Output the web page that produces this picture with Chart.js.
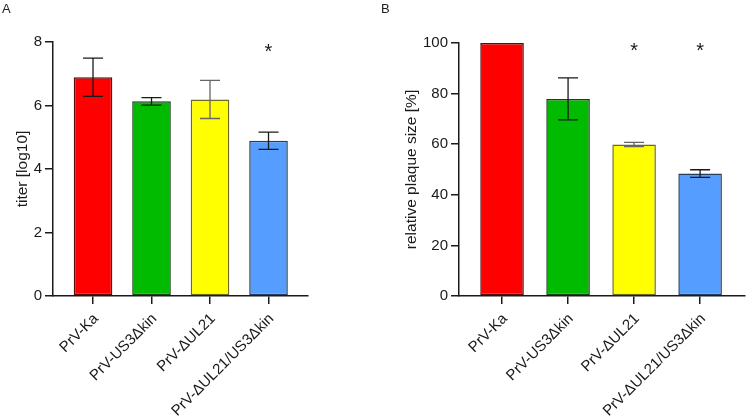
<!DOCTYPE html>
<html>
<head>
<meta charset="utf-8">
<script src="https://cdn.jsdelivr.net/npm/chart.js@4.4.1/dist/chart.umd.min.js"></script>
<style>
  body { margin: 0; background: #fff; }
  #wrap { position: relative; width: 746px; height: 420px; }
  .panel { position: absolute; top: 0; width: 373px; height: 420px; }
  .letter { position: absolute; top: 1px; font: 13px "Liberation Sans", Arial, sans-serif; color: #222; }
</style>
</head>
<body>
<div id="wrap">
  <div class="panel" style="left:0"><canvas id="chartA" width="373" height="420"></canvas></div>
  <div class="panel" style="left:373px"><canvas id="chartB" width="373" height="420"></canvas></div>
  <div class="letter" style="left:2px">A</div>
  <div class="letter" style="left:381px">B</div>
</div>
<script>
const strains = ["PrV-Ka", "PrV-US3Δkin", "PrV-ΔUL21", "PrV-ΔUL21/US3Δkin"];

const titerMean = [6.89, 6.13, 6.19, 4.89];
const titerErr = [0.6, 0.12, 0.6, 0.27];
const titerStars = [null, null, null, 7.8];

const plaqueMean = [100, 77.9, 59.9, 48.4];
const plaqueErr = [0, 8.3, 0.8, 1.5];
const plaqueStars = [null, null, 98.3, 98.3];

const fills = ["#ff0000", "#00bb00", "#ffff00", "#559dff"];
const borders = ["#5a0c0c", "#1a3f1a", "#6b6b26", "#243f60"];
const errColors = ["#1a1a1a", "#1a1a1a", "#666666", "#1a1a1a"];

const font = "'Liberation Sans', Arial, sans-serif";
const ink = "#1a1a1a";

// error bars and significance stars
const extras = {
  id: "extras",
  afterDatasetsDraw(chart) {
    const { ctx, scales: { x, y } } = chart;
    const ds = chart.data.datasets[0];
    ctx.save();
    ds.data.forEach((p, i) => {
      const e = ds.errors[i];
      if (!e) return;
      const px = x.getPixelForValue(p.x);
      const top = y.getPixelForValue(p.y + e);
      const bot = y.getPixelForValue(p.y - e);
      ctx.strokeStyle = errColors[i];
      ctx.lineWidth = 1.3;
      ctx.beginPath();
      ctx.moveTo(px, top); ctx.lineTo(px, bot);
      ctx.moveTo(px - 10, top); ctx.lineTo(px + 10, top);
      ctx.moveTo(px - 10, bot); ctx.lineTo(px + 10, bot);
      ctx.stroke();
    });
    ctx.fillStyle = ink;
    ctx.font = "20px " + font;
    ctx.textAlign = "center";
    ctx.textBaseline = "alphabetic";
    ds.stars.forEach((s, i) => {
      if (s == null) return;
      ctx.fillText("*", x.getPixelForValue(i), y.getPixelForValue(s) + 10);
    });
    ctx.restore();
  }
};

function makeChart(id, means, errs, stars, cfg) {
  new Chart(document.getElementById(id), {
    type: "bar",
    data: {
      datasets: [{
        data: means.map((v, i) => ({ x: i, y: v })),
        errors: errs,
        stars: stars,
        backgroundColor: fills,
        borderColor: borders,
        borderWidth: 1.5,
        borderSkipped: false,
        barPercentage: 0.66,
        categoryPercentage: 1
      }]
    },
    options: {
      responsive: false,
      animation: false,
      events: [],
      layout: { padding: cfg.padding },
      plugins: { legend: { display: false }, tooltip: { enabled: false } },
      scales: {
        x: {
          type: "linear",
          offset: false,
          min: cfg.xMin,
          max: cfg.xMax,
          afterBuildTicks: (s) => { s.ticks = strains.map((_, i) => ({ value: i })); },
          afterFit: (s) => { s.height = cfg.xHeight; },
          border: { color: ink, width: 1.5 },
          grid: { offset: false, drawOnChartArea: false, tickLength: 8, color: ink, lineWidth: 1.5 },
          ticks: {
            color: ink,
            font: { family: font, size: 15 },
            maxRotation: 45,
            minRotation: 45,
            padding: 6,
            labelOffset: 3,
            callback: (v) => strains[v]
          }
        },
        y: {
          min: 0,
          max: cfg.yMax,
          afterFit: (s) => { s.width = cfg.yWidth; },
          border: { color: ink, width: 1.5 },
          grid: { drawOnChartArea: false, tickLength: 8, color: ink, lineWidth: 1.5 },
          ticks: {
            stepSize: cfg.yStep,
            color: ink,
            font: { family: font, size: 15 },
            padding: 3
          },
          title: {
            display: true,
            text: cfg.yTitle,
            color: ink,
            font: { family: font, size: 15.5 },
            padding: { top: cfg.titlePad, bottom: 0 }
          }
        }
      }
    },
    plugins: [extras]
  });
}

makeChart("chartA", titerMean, titerErr, titerStars, {
  padding: { left: 0, right: 65, top: 42, bottom: 0 },
  xMin: -0.684, xMax: 3.675, xHeight: 124,
  yMax: 8, yStep: 2, yWidth: 53, titlePad: 13,
  yTitle: "titer [log10]"
});

makeChart("chartB", plaqueMean, plaqueErr, plaqueStars, {
  padding: { left: 0, right: 1, top: 43, bottom: 0 },
  xMin: -0.652, xMax: 3.68, xHeight: 124,
  yMax: 100, yStep: 20, yWidth: 86, titlePad: 29,
  yTitle: "relative plaque size [%]"
});
</script>
</body>
</html>
